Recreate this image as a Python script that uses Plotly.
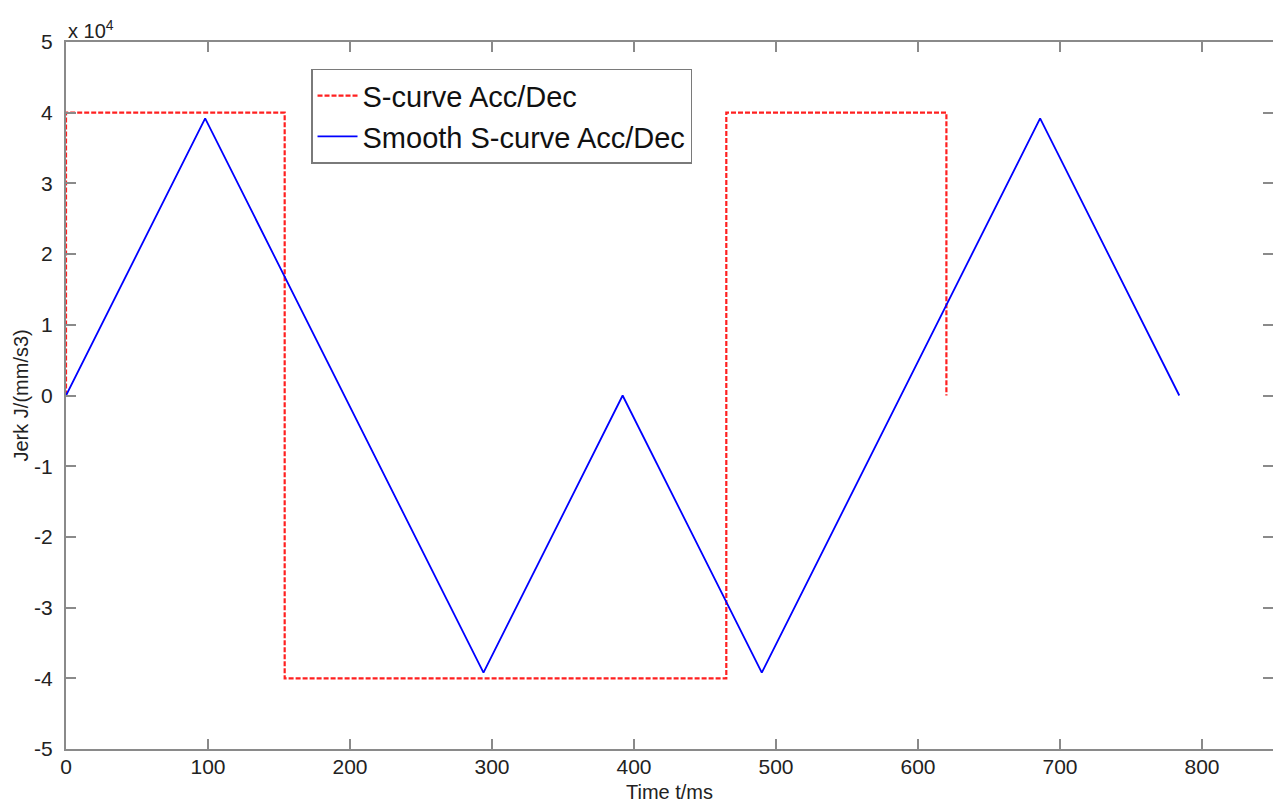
import plotly.graph_objects as go

# S-curve (red dashed) jerk profile, values in mm/s^3
s_time = [0, 0, 154, 154, 465, 465, 620, 620]
s_jerk = [0, 40000, 40000, -40000, -40000, 40000, 40000, 0]

# Smooth S-curve (blue) jerk profile
sm_time = [0, 98, 294, 392, 490, 686, 784]
sm_jerk = [0, 39200, -39200, 0, -39200, 39200, 0]

x_ticks = [0, 100, 200, 300, 400, 500, 600, 700, 800]
y_ticks = [-50000, -40000, -30000, -20000, -10000, 0, 10000, 20000, 30000, 40000, 50000]
y_ticktext = ["-5", "-4", "-3", "-2", "-1", "0", "1", "2", "3", "4", "5"]

FONT = "Arial, 'Liberation Sans', Helvetica, sans-serif"

fig = go.Figure()
fig.add_trace(go.Scatter(
    x=s_time, y=s_jerk, mode="lines", name="S-curve Acc/Dec",
    line=dict(color="#ff2020", width=2.2, dash="5px,2px"),
))
fig.add_trace(go.Scatter(
    x=sm_time, y=sm_jerk, mode="lines", name="Smooth S-curve Acc/Dec",
    line=dict(color="#0000ff", width=1.8),
))

axis_common = dict(
    showgrid=False, zeroline=False, showline=True, linecolor="#8a8a8a", linewidth=2,
    mirror="ticks", ticks="inside", ticklen=10, tickwidth=1.5, tickcolor="#8a8a8a",
    tickfont=dict(family=FONT, size=21, color="#222222"), automargin=False,
)

fig.update_layout(
    width=1273, height=803, autosize=False,
    margin=dict(l=66, r=0, t=42, b=54),
    paper_bgcolor="white", plot_bgcolor="white",
    font=dict(family=FONT, color="#222222"),
    xaxis=dict(range=[0, 850], tickvals=x_ticks, ticklabelstandoff=-2, **axis_common),
    yaxis=dict(range=[-50000, 50000], tickvals=y_ticks, ticktext=y_ticktext,
               ticklabelstandoff=7, **axis_common),
    legend=dict(
        x=0.203, y=0.962, xanchor="left", yanchor="top",
        bgcolor="white", bordercolor="#7a7a7a", borderwidth=1.5,
        font=dict(family=FONT, size=29, color="#111111"),
        tracegroupgap=0, itemwidth=40,
    ),
    showlegend=True,
)

fig.add_annotation(
    xref="paper", yref="paper", x=0, y=1, xanchor="left", yanchor="bottom",
    text="x 10<sup>4</sup>", showarrow=False, yshift=-2,
    font=dict(family=FONT, size=20, color="#222222"),
)
fig.add_annotation(
    xref="paper", yref="paper", x=0.5, y=0, xanchor="center", yanchor="top",
    text="Time t/ms", showarrow=False, yshift=-30,
    font=dict(family=FONT, size=20, color="#222222"),
)
fig.add_annotation(
    xref="paper", yref="paper", x=0, y=0.5, xanchor="center", yanchor="middle",
    text="Jerk J/(mm/s3)", showarrow=False, textangle=-90, xshift=-46,
    font=dict(family=FONT, size=20, color="#222222"),
)

post = (
    "document.documentElement.style.margin='0';"
    "document.body.style.margin='0';"
    "document.body.style.overflow='hidden';"
    "Plotly.relayout('{plot_id}', {width:1273, height:803});"
)
fig.write_html("out.html", post_script=post, config={"displayModeBar": False})
